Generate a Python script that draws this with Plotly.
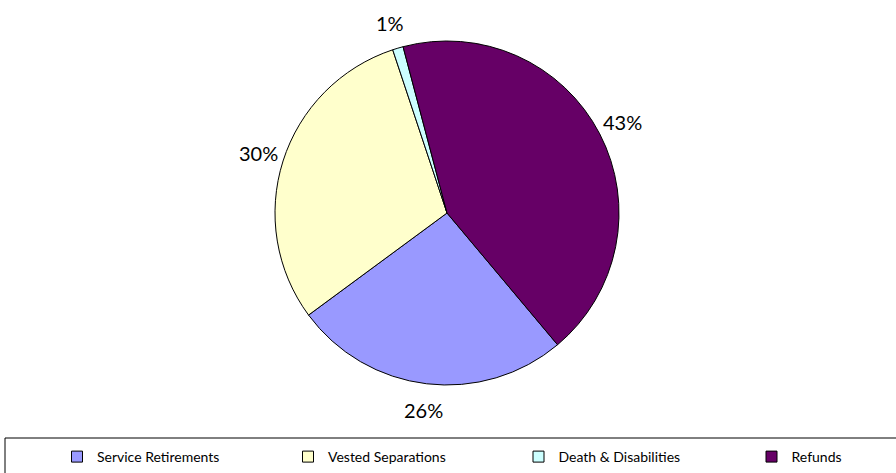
import math
import plotly.graph_objects as go

categories = ["Service Retirements", "Vested Separations", "Death & Disabilities", "Refunds"]
values = [26, 30, 1, 43]
colors = ["#9999FF", "#FFFFCC", "#CCFFFF", "#660066"]

W, H = 896, 473
cx, cy, r = 447, 213, 172
rotation = 140
label_dist = 198
legend_symbol_x = [82, 313, 543.5, 776.5]
FONT = "Lato, Carlito, Calibri, sans-serif"

fig = go.Figure()
fig.add_trace(go.Pie(
    labels=categories,
    values=values,
    sort=False,
    direction="clockwise",
    rotation=rotation,
    marker=dict(colors=colors, line=dict(color="black", width=1)),
    textinfo="none",
    textposition="none",
    hoverinfo="label+percent",
    domain=dict(x=[(cx - r) / W, (cx + r) / W], y=[(H - cy - r) / H, (H - cy + r) / H]),
    showlegend=False,
))

# legend entries (one legend per item so spacing matches the reference)
legend_names = ["legend", "legend2", "legend3", "legend4"]
for cat, col, lg in zip(categories, colors, legend_names):
    fig.add_trace(go.Scatter(
        x=[None], y=[None], mode="markers", name=cat,
        marker=dict(symbol="square", size=11, color=col, line=dict(color="black", width=1)),
        legend=lg, showlegend=True, hoverinfo="skip",
    ))

# percentage labels placed outside each slice at its mid-angle
total = sum(values)
annotations = []
start = rotation
for v in values:
    sweep = 360 * v / total
    mid = math.radians(start + sweep / 2)
    start += sweep
    px = cx + label_dist * math.sin(mid)
    py = cy - label_dist * math.cos(mid)
    annotations.append(dict(
        x=px / W, y=1 - py / H, xref="paper", yref="paper",
        text=f"{round(100 * v / total)}%", showarrow=False,
        xanchor="center", yanchor="middle",
        font=dict(family=FONT, size=20, color="black"),
    ))

legend_common = dict(
    orientation="h", xanchor="left", yanchor="middle",
    y=(H - 457) / H,
    font=dict(family=FONT, size=14, color="black"),
    bgcolor="rgba(0,0,0,0)",
)
layout_legends = {}
for lg, sx in zip(legend_names, legend_symbol_x):
    layout_legends[lg] = dict(legend_common, x=(sx - 25) / W)

fig.update_layout(
    width=W, height=H,
    margin=dict(l=0, r=0, t=0, b=0, autoexpand=False),
    paper_bgcolor="white",
    plot_bgcolor="white",
    xaxis=dict(visible=False),
    yaxis=dict(visible=False),
    annotations=annotations,
    shapes=[dict(type="rect", xref="paper", yref="paper",
                 x0=5 / W, x1=1.01, y0=-0.01, y1=(H - 438) / H,
                 line=dict(color="black", width=1))],
    **layout_legends,
)

fig.write_html("out.html", config={"displayModeBar": False},
               post_script="document.body.style.margin='0';")
